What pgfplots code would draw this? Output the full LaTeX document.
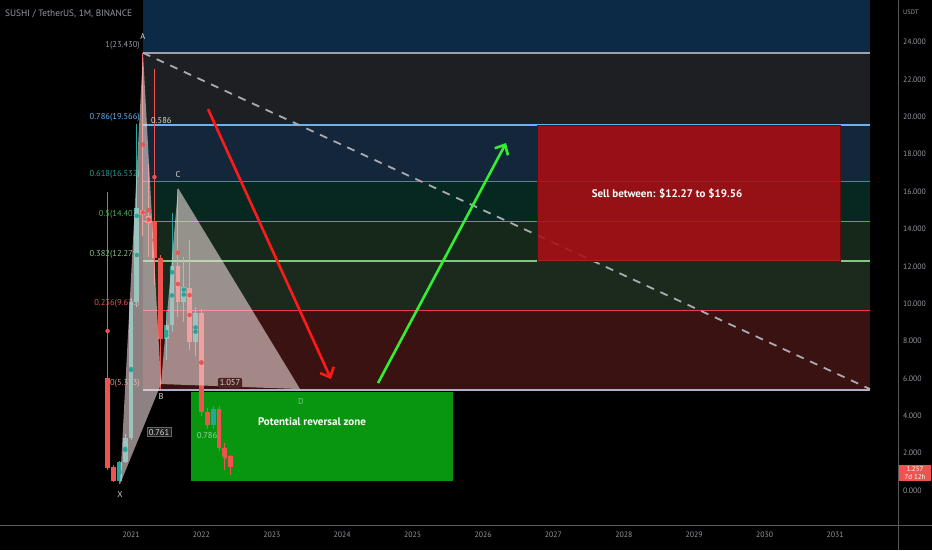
\documentclass[border=0pt]{standalone}
\usepackage{pgfplots}
\pgfplotsset{compat=1.18}
\usepackage{pgfplotstable}
\usepackage{fontspec}
\setmainfont{PT Sans}
\usetikzlibrary{arrows.meta}
\definecolor{cred}{RGB}{239,83,80}
\definecolor{cteal}{RGB}{38,166,154}
\definecolor{ctick}{RGB}{150,152,160}
\definecolor{bTop}{RGB}{12,42,70}
\definecolor{bA}{RGB}{30,31,34}
\definecolor{bB}{RGB}{20,38,58}
\definecolor{bC}{RGB}{6,40,32}
\definecolor{bD}{RGB}{22,40,26}
\definecolor{bE}{RGB}{28,42,30}
\definecolor{bF}{RGB}{58,18,18}
\definecolor{lOne}{RGB}{160,160,168}
\definecolor{lA}{RGB}{100,181,246}
\definecolor{lB}{RGB}{32,160,144}
\definecolor{lC}{RGB}{76,175,80}
\definecolor{lD}{RGB}{129,199,132}
\definecolor{lE}{RGB}{242,54,69}
\definecolor{lZero}{RGB}{176,176,200}
\definecolor{sellred}{RGB}{170,14,20}
\definecolor{zonegreen}{RGB}{8,150,16}
\definecolor{tri}{RGB}{235,215,215}
\definecolor{arrred}{RGB}{255,26,26}
\definecolor{arrgreen}{RGB}{51,238,51}

\pgfplotstableread{
x o c h l
2020.667 6.02 1.20 15.98 1.10
2020.750 1.26 0.51 1.37 0.45
2021.167 15.02 14.75 23.43 13.6
2021.250 14.69 14.32 17.5 12.5
2021.333 14.37 12.45 22.56 11.0
2021.417 12.45 8.11 12.6 5.45
2021.667 12.02 10.09 16.15 9.3
2021.833 10.84 7.95 13.41 7.5
2022.000 9.50 4.20 9.7 4.0
2022.083 4.20 3.51 4.4 3.3
2022.250 4.36 2.28 4.5 2.1
2022.333 2.28 1.85 2.54 1.10
2022.417 1.85 1.257 1.9 0.83
}\downcandles

\pgfplotstableread{
x o c h l
2020.833 0.51 1.53 1.58 0.35
2020.917 1.53 2.81 3.0 1.45
2021.000 2.81 10.09 10.3 2.7
2021.083 10.09 15.12 19.6 9.8
2021.500 8.11 8.86 9.6 7.0
2021.583 8.86 12.02 14.86 8.5
2021.750 10.09 10.89 12.5 9.0
2021.917 7.95 9.50 9.8 7.2
2022.167 3.51 4.36 4.5 3.3
}\upcandles

\begin{document}
\begin{tikzpicture}[x=1pt,y=1pt]
\useasboundingbox (0,0) rectangle (932,550);
\fill[black] (0,0) rectangle (932,550);
\begin{axis}[
  at={(0pt,25pt)}, anchor=south west,
  width=898pt, height=525pt, scale only axis,
  xmin=2019.139, xmax=2031.895, ymin=-1.847, ymax=26.258,
  axis line style={draw=none}, tick style={draw=none}, major tick length=0pt,
  xtick={2021,2022,2023,2024,2025,2026,2027,2028,2029,2030,2031},
  xticklabels={2021,2022,2023,2024,2025,2026,2027,2028,2029,2030,2031},
  ytick={0,2,4,6,8,10,12,14,16,18,20,22,24},
  yticklabels={0.000,2.000,4.000,6.000,8.000,10.000,12.000,14.000,16.000,18.000,20.000,22.000,24.000},
  yticklabel pos=right,
  ticklabel style={font=\fontsize{7.8}{9}\selectfont, text=ctick},
  yticklabel style={anchor=west, xshift=1.5pt},
  xticklabel style={yshift=-3pt},
  clip=true,
]
% fib bands
\addplot[fill=bTop, draw=none] coordinates {(2021.170,23.43) (2031.497,23.43) (2031.497,26.4) (2021.170,26.4)} -- cycle;
\addplot[fill=bA, draw=none] coordinates {(2021.170,19.566) (2031.497,19.566) (2031.497,23.43) (2021.170,23.43)} -- cycle;
\addplot[fill=bB, draw=none] coordinates {(2021.170,16.532) (2031.497,16.532) (2031.497,19.566) (2021.170,19.566)} -- cycle;
\addplot[fill=bC, draw=none] coordinates {(2021.170,14.402) (2031.497,14.402) (2031.497,16.532) (2021.170,16.532)} -- cycle;
\addplot[fill=bD, draw=none] coordinates {(2021.170,12.271) (2031.497,12.271) (2031.497,14.402) (2021.170,14.402)} -- cycle;
\addplot[fill=bE, draw=none] coordinates {(2021.170,9.635) (2031.497,9.635) (2031.497,12.271) (2021.170,12.271)} -- cycle;
\addplot[fill=bF, draw=none] coordinates {(2021.170,5.373) (2031.497,5.373) (2031.497,9.635) (2021.170,9.635)} -- cycle;
% fib lines
\addplot[lOne, line width=2pt] coordinates {(2021.170,23.43) (2031.497,23.43)};
\addplot[lA, line width=1.6pt] coordinates {(2021.170,19.566) (2031.497,19.566)};
\addplot[lB, line width=1.6pt] coordinates {(2021.170,16.532) (2031.497,16.532)};
\addplot[lC, line width=1.6pt] coordinates {(2021.170,14.402) (2031.497,14.402)};
\addplot[lD, line width=1.6pt] coordinates {(2021.170,12.271) (2031.497,12.271)};
\addplot[lE, line width=1.6pt] coordinates {(2021.170,9.635) (2031.497,9.635)};
\addplot[lZero, line width=1.6pt] coordinates {(2021.170,5.373) (2031.497,5.373)};
% fib labels
\begin{scope}[every node/.style={anchor=south east, inner sep=0pt, yshift=3pt, font=\fontsize{8.5}{10}\selectfont}]
\node[text=ctick] at (axis cs:2021.128,23.43) {1(23.430)};
\node[text=lA] at (axis cs:2021.128,19.566) {0.786(19.566)};
\node[text=lB] at (axis cs:2021.128,16.532) {0.618(16.532)};
\node[text=lC] at (axis cs:2021.128,14.402) {0.5(14.402)};
\node[text=lD] at (axis cs:2021.128,12.271) {0.382(12.271)};
\node[text=cred] at (axis cs:2021.128,9.635) {0.236(9.635)};
\node[text=cred!70!white] at (axis cs:2021.128,5.373) {0(5.373)};
\end{scope}
% dashed trend line
\addplot[color=lOne!90!white, line width=1.8pt, dash pattern=on 8pt off 7pt] coordinates {(2021.170,23.43) (2031.497,5.43)};
% sell box
\addplot[fill=sellred, fill opacity=0.88, draw=sellred!60!black] coordinates {(2026.767,12.271) (2031.071,12.271) (2031.071,19.566) (2026.767,19.566)} -- cycle;
% reversal zone
\addplot[fill=zonegreen, draw=none] coordinates {(2021.852,0.51) (2025.574,0.51) (2025.574,5.25) (2021.852,5.25)} -- cycle;
\node[text=lD!80!white, font=\fontsize{8.5}{10}\selectfont] at (axis cs:2022.080,2.92) {0.786};
% candles: wicks and bodies
\addplot[cred, only marks, mark=none, error bars/.cd, y dir=both, y explicit, error mark=none, error bar style={line width=1pt, color=cred}]
  table[x=x, y expr={(\thisrow{h}+\thisrow{l})/2}, y error expr={(\thisrow{h}-\thisrow{l})/2}] {\downcandles};
\addplot[cred, only marks, mark=none, error bars/.cd, y dir=both, y explicit, error mark=none, error bar style={line width=4.8pt, color=cred}]
  table[x=x, y expr={(\thisrow{o}+\thisrow{c})/2}, y error expr={abs(\thisrow{o}-\thisrow{c})/2}] {\downcandles};
\addplot[cteal, only marks, mark=none, error bars/.cd, y dir=both, y explicit, error mark=none, error bar style={line width=1pt, color=cteal}]
  table[x=x, y expr={(\thisrow{h}+\thisrow{l})/2}, y error expr={(\thisrow{h}-\thisrow{l})/2}] {\upcandles};
\addplot[cteal, only marks, mark=none, error bars/.cd, y dir=both, y explicit, error mark=none, error bar style={line width=4.8pt, color=cteal}]
  table[x=x, y expr={(\thisrow{o}+\thisrow{c})/2}, y error expr={abs(\thisrow{o}-\thisrow{c})/2}] {\upcandles};
% harmonic pattern triangles
\addplot[fill=tri, fill opacity=0.6, draw=none] coordinates {(2020.844,0.348) (2021.170,23.43) (2021.426,5.70)} -- cycle;
\addplot[fill=tri, fill opacity=0.6, draw=none] coordinates {(2021.426,5.70) (2021.668,16.19) (2023.401,5.43)} -- cycle;
% arrows
\addplot[arrred, line width=2.6pt, -{Straight Barb[length=8pt,width=15pt]}] coordinates {(2022.094,20.42) (2023.841,5.97)};
\addplot[arrgreen, line width=2.6pt, -{Straight Barb[length=8pt,width=15pt]}] coordinates {(2024.509,5.75) (2026.327,18.60)};
% pattern labels
\begin{scope}[every node/.style={font=\fontsize{8.5}{10}\selectfont, inner sep=0pt}]
\node[text=white!85!black] at (axis cs:2021.170,24.28) {A};
\node[text=white!85!black] at (axis cs:2021.426,5.05) {B};
\node[text=white!85!black] at (axis cs:2021.668,16.89) {C};
\node[text=lD] at (axis cs:2023.415,4.74) {D};
\node[text=white!85!black] at (axis cs:2020.844,-0.19) {X};
\node[text=white!85!black, anchor=west] at (axis cs:2021.284,19.83) {0.586};
\node[text=white!85!black, fill=black!88!white, draw=black!60!white, inner sep=1.5pt] at (axis cs:2021.398,3.13) {0.761};
\node[text=white!85!black, fill={rgb,255:red,78;green,34;blue,34}, rounded corners=2pt, inner sep=2pt] at (axis cs:2022.406,5.755) {1.057};
\end{scope}
\node[text=white, font=\bfseries\fontsize{11}{13}\selectfont] at (axis cs:2028.614,15.87) {Sell between: \$12.27 to \$19.56};
\node[text=white, font=\bfseries\fontsize{11}{13}\selectfont] at (axis cs:2023.571,3.67) {Potential reversal zone};
\end{axis}
% frame lines
\draw[black!65!white, line width=0.8pt] (0,25) -- (932,25);
\draw[black!65!white, line width=0.8pt] (898,0) -- (898,550);
% title and scale label
\node[anchor=west, text=ctick, font=\fontsize{9.3}{11}\selectfont, inner sep=0pt] at (5,536) {SUSHI / TetherUS, 1M, BINANCE};
\node[anchor=west, text=ctick, font=\fontsize{6.5}{8}\selectfont, inner sep=0pt] at (903,538) {USDT};
% price tag
\node[fill=cred, text=white, font=\fontsize{7}{8}\selectfont, align=center, minimum width=32pt, inner sep=1.5pt] at (915,77) {1.257\\7d 12h};
\end{tikzpicture}
\end{document}
